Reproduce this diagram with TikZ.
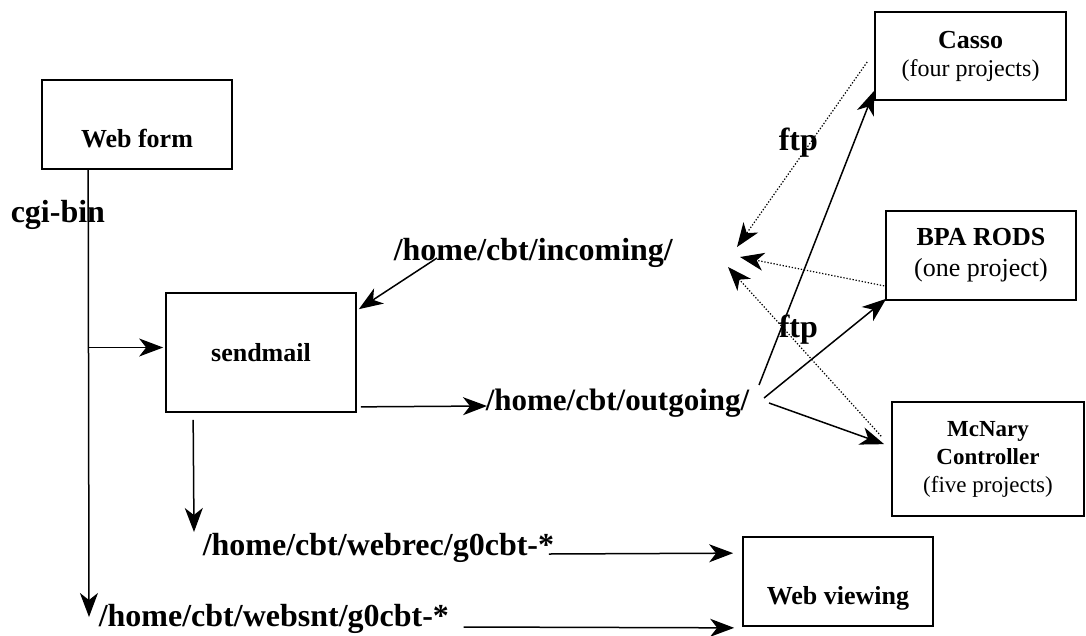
\documentclass[tikz,border=0pt]{standalone}
\usepackage{fontspec}
\setmainfont{Liberation Serif}
\usetikzlibrary{arrows.meta,calc}

\begin{document}
\begin{tikzpicture}[
        x=1pt, y=-1pt,
        line width=1.5pt,
        flow/.style={-{Stealth[length=24pt,width=18pt,inset=7pt]}},
        pathlabel/.style={font=\fontsize{32}{36}\selectfont\bfseries, inner sep=0pt, anchor=base west},
        ftpflow/.style={flow, line width=1.2pt, dash pattern=on 1.3pt off 1.8pt}
    ]
    \tikzset{
        sitebox/.style = {rectangle, draw=black, line width=1.7pt, align=center, inner sep=2pt, font=\fontsize{26}{30}\selectfont},
        lowtext/.style = {text height=45pt, text depth=0pt},
    }
    \useasboundingbox (0,0) rectangle (1086,635);
    \node[sitebox,lowtext,minimum width=190pt,minimum height=89pt] (webform) at (137,124.5) {\textbf{Web form}};
    \node[sitebox,minimum width=190pt,minimum height=119pt] (sendmail) at (261,352.5) {\textbf{sendmail}};
    \node[sitebox,font=\fontsize{26}{28}\selectfont,minimum width=191pt,minimum height=88pt] (casso) at (970.5,56)
        {\textbf{Casso}\\{\fontsize{24}{28}\selectfont(four projects)}};
    \node[sitebox,font=\fontsize{26}{31}\selectfont,minimum width=190pt,minimum height=89pt] (bparods) at (981,255.5)
        {\textbf{BPA RODS}\\(one project)};
    \node[sitebox,font=\fontsize{23}{28}\selectfont,minimum width=192pt,minimum height=114pt] (mcnary) at (988,459)
        {\textbf{McNary}\\\textbf{Controller}\\(five projects)};
    \node[sitebox,lowtext,minimum width=190pt,minimum height=89pt] (webview) at (838,581.5) {\textbf{Web viewing}};

    \node[pathlabel] (cgibin) at (10,222) {cgi-bin};
    \node[pathlabel] (incoming) at (393,260) {/home/cbt/incoming/};
    \node[pathlabel,font=\fontsize{31}{36}\selectfont\bfseries] (outgoing) at (485,410) {/home/cbt/outgoing/};
    \node[pathlabel] (webrec) at (202,555) {/home/cbt/webrec/g0cbt-*};
    \node[pathlabel] (websnt) at (98,626) {/home/cbt/websnt/g0cbt-*};
    \node[pathlabel] (ftpa) at (778,150) {ftp};
    \node[pathlabel] (ftpb) at (778,337) {ftp};

    \coordinate (trunk) at ($(webform.south west)+(47,0)$);
    \coordinate (trunkend) at ($(websnt.base west)+(-9,-9)$);
    \coordinate (fork) at ($(sendmail.west)+(-2,-5)$);
    \draw[flow] (trunk) -- (trunkend);
    \draw[flow] (trunk |- fork) -- (fork);
    \draw[flow] ($(incoming.base west)+(44,-2)$) -- ($(sendmail.north east)+(2,17)$);
    \draw[flow] ($(sendmail.south east)+(4,-6)$) -- ($(outgoing.base west)+(2,-4)$);
    \draw[flow] ($(sendmail.south west)+(28,7)$) -- ($(webrec.base west)+(-8,-23)$);
    \draw[flow] ($(webrec.base east)+(-6,-1)$) -- ($(webview.north west)+(-9,17)$);
    \draw[flow] ($(websnt.base east)+(14,1)$) -- ($(webview.south west)+(-8,1)$);

    \draw[flow] ($(outgoing.base east)+(9,-25)$) -- ($(casso.south west)+(0,-10)$);
    \draw[flow] ($(outgoing.base east)+(14,-12)$) -- ($(bparods.south west)+(1,-2)$);
    \draw[flow] ($(outgoing.base east)+(19,-7)$) -- ($(mcnary.north west)+(-7,43)$);

    \coordinate (ftpinA) at (737,247);
    \coordinate (ftpinB) at (740,257);
    \coordinate (ftpinC) at (728,267);
    \draw[ftpflow] ($(casso.west)+(-7,6)$) -- (ftpinA);
    \draw[ftpflow] ($(bparods.south west)+(-1,-15)$) -- (ftpinB);
    \draw[ftpflow] ($(mcnary.north west)+(-10,35)$) -- (ftpinC);
\end{tikzpicture}
\end{document}
